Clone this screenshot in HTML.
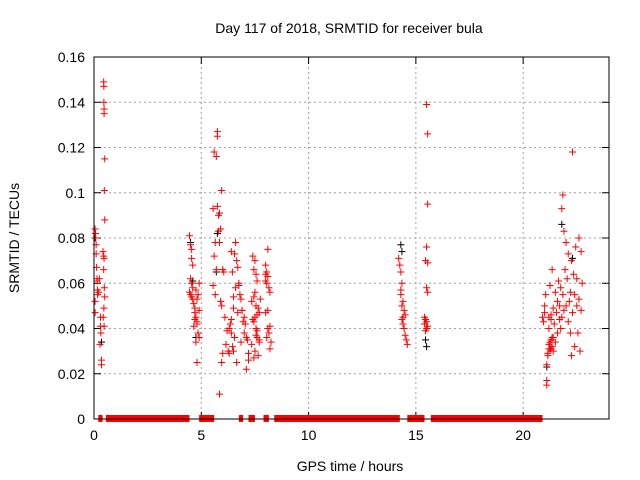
<!DOCTYPE html>
<html><head><meta charset="utf-8">
<style>
html,body{margin:0;padding:0;background:#fff;}
svg{display:block;font-family:"Liberation Sans",sans-serif;}
</style></head>
<body>
<svg id="chart" width="640" height="480" viewBox="0 0 640 480">
<text x="349" y="33" font-size="14" text-anchor="middle" fill="#000">Day 117 of 2018, SRMTID for receiver bula</text>
<text x="350" y="471" font-size="14" text-anchor="middle" fill="#000">GPS time / hours</text>
<text transform="translate(19,238) rotate(-90)" font-size="14" text-anchor="middle" fill="#000">SRMTID / TECUs</text>
<g id="grid"></g>
<g id="ticks"></g>
<g id="zerobars"></g>
<g id="blackpts"></g>
<g id="redpts"></g>
<rect x="94" y="57" width="515" height="362" fill="none" stroke="#000" stroke-width="1"/>
</svg>
<script>
const xTicks=[0,5,10,15,20];
const xTickLabels=["0","5","10","15","20"];
const yTicks=[0,0.02,0.04,0.06,0.08,0.1,0.12,0.14,0.16];
const yTickLabels=["0","0.02","0.04","0.06","0.08","0.1","0.12","0.14","0.16"];
const zeroStart=[0.2,0.55,4.9,6.75,7.2,7.9,8.4,14.6,15.7];
const zeroEnd=[0.4,4.45,5.6,6.95,7.5,8.15,14.25,15.4,20.9];
const redHours=[0.05,0.07,0.08,0.1,0.1,0.12,0.14,0.15,0.16,0.17,0.05,0.05,0.3,0.3,0.32,0.28,0.35,0.35,0.45,0.46,0.46,0.47,0.47,0.5,0.48,0.5,0.42,0.45,0.47,0.45,0.48,0.5,0.46,0.43,0.47,0.22,0.25,
4.45,4.5,4.55,4.55,4.6,4.5,4.55,4.6,4.45,4.5,4.55,4.6,4.65,4.7,4.7,4.75,4.8,4.8,4.85,4.9,4.75,4.8,4.75,4.85,4.9,4.9,4.8,4.7,4.65,
5.6,5.75,5.75,5.7,5.55,5.65,5.75,5.85,5.8,5.9,5.6,5.7,5.55,5.65,5.95,5.8,5.85,6.0,6.05,5.9,5.95,6.1,6.2,6.25,6.15,6.0,5.95,5.85,
6.4,6.45,6.5,6.35,6.6,6.55,6.3,6.4,6.5,6.65,6.7,6.75,6.6,6.8,6.85,6.9,6.7,6.4,6.45,6.3,6.55,6.9,7.0,7.05,6.95,7.1,7.15,7.0,7.2,6.85,6.65,6.75,7.1,7.2,6.5,
7.4,7.5,7.45,7.55,7.6,7.5,7.45,7.35,7.55,7.65,7.7,7.6,7.5,7.4,7.45,7.55,7.6,7.7,7.35,7.5,7.65,7.45,7.55,7.6,7.75,7.7,
8.0,8.05,8.1,8.0,8.05,8.15,8.2,8.1,8.0,8.2,8.1,8.15,8.05,8.25,8.2,8.0,8.1,
14.2,14.25,14.3,14.35,14.3,14.4,14.35,14.45,14.5,14.35,14.4,14.45,14.5,14.55,14.6,14.3,14.4,
15.5,15.55,15.55,15.5,15.45,15.55,15.5,15.55,15.45,15.5,15.4,15.55,15.5,15.45,15.4,
20.9,20.95,21.0,21.0,21.05,21.1,21.1,21.15,21.2,21.2,
21.25,21.25,21.3,21.3,21.35,21.35,21.4,21.4,21.45,21.5,
21.5,21.55,21.6,21.6,21.65,21.7,21.7,21.75,21.75,21.8,
21.8,21.85,21.85,21.9,21.9,21.95,22.0,22.0,22.05,22.1,
22.1,22.15,22.2,22.2,22.25,22.3,22.3,22.35,22.4,22.4,
22.45,22.5,22.5,22.55,22.6,22.6,22.65,22.7,22.7,22.75,
21.1,21.15,21.2,21.25,21.3,21.35,21.4,21.2,21.3,22.25];
const redVals=[0.084,0.082,0.080,0.077,0.073,0.067,0.062,0.061,0.057,0.055,0.052,0.047,0.045,0.041,0.038,0.033,0.026,0.024,0.149,0.147,0.140,0.137,0.135,0.115,0.101,0.088,0.074,0.072,0.071,0.066,0.058,0.054,0.049,0.045,0.041,0.056,0.062,
0.081,0.077,0.075,0.071,0.068,0.062,0.060,0.058,0.056,0.055,0.054,0.053,0.051,0.049,0.047,0.045,0.043,0.042,0.038,0.036,0.034,0.025,0.057,0.055,0.060,0.048,0.053,0.044,0.041,
0.118,0.127,0.125,0.116,0.093,0.078,0.094,0.091,0.090,0.084,0.072,0.066,0.059,0.055,0.101,0.083,0.078,0.066,0.065,0.052,0.050,0.045,0.039,0.030,0.033,0.029,0.025,0.011,
0.074,0.065,0.049,0.042,0.078,0.073,0.040,0.038,0.030,0.070,0.067,0.059,0.058,0.055,0.053,0.048,0.047,0.044,0.032,0.029,0.036,0.048,0.045,0.042,0.043,0.036,0.035,0.038,0.026,0.034,0.025,0.060,0.022,0.029,0.054,
0.072,0.070,0.066,0.064,0.061,0.056,0.054,0.052,0.050,0.049,0.047,0.046,0.045,0.044,0.043,0.037,0.036,0.034,0.033,0.030,0.028,0.027,0.040,0.039,0.053,0.035,
0.068,0.065,0.063,0.061,0.060,0.058,0.056,0.048,0.047,0.041,0.040,0.038,0.036,0.034,0.031,0.064,0.075,
0.071,0.068,0.065,0.060,0.055,0.052,0.050,0.048,0.046,0.044,0.042,0.040,0.037,0.035,0.033,0.057,0.045,
0.139,0.126,0.095,0.076,0.070,0.069,0.058,0.056,0.044,0.043,0.042,0.041,0.040,0.039,0.045,
0.045,0.043,0.047,0.050,0.055,0.017,0.024,0.028,0.033,0.045,
0.031,0.059,0.035,0.046,0.032,0.066,0.049,0.036,0.042,0.056,
0.034,0.047,0.052,0.038,0.061,0.044,0.050,0.058,0.040,0.093,
0.045,0.099,0.055,0.083,0.048,0.066,0.078,0.050,0.062,0.043,
0.073,0.052,0.056,0.038,0.070,0.118,0.047,0.064,0.055,0.032,
0.076,0.050,0.062,0.038,0.080,0.053,0.030,0.074,0.048,0.060,
0.015,0.029,0.031,0.034,0.031,0.036,0.030,0.040,0.044,0.028];
const blackHours=[0.05,0.35,4.5,4.6,4.75,5.7,5.75,14.3,14.35,15.5,15.45,21.1,21.8,22.3];
const blackVals=[0.080,0.034,0.078,0.061,0.036,0.065,0.082,0.077,0.074,0.032,0.035,0.023,0.086,0.071];

const X0=94,X1=609,Y0=419,Y1=57,XMAX=24,YMAX=0.16;
const sx=h=>X0+h*(X1-X0)/XMAX;
const sy=v=>Y0-v*(Y0-Y1)/YMAX;
const NS="http://www.w3.org/2000/svg";
function mk(tag,attrs,parent){const e=document.createElementNS(NS,tag);for(const k in attrs)e.setAttribute(k,attrs[k]);parent.appendChild(e);return e;}
const grid=document.getElementById('grid'),ticks=document.getElementById('ticks');
yTicks.forEach((v,i)=>{
  const y=sy(v);
  if(v>0&&v<YMAX){const g=mk('line',{x1:X0,x2:X1,y1:y,y2:y,stroke:'#a0a0a0','stroke-dasharray':'2,3'},grid);
  
  }
  const t=mk('path',{d:`M${X0} ${y}h7M${X1} ${y}h-7`,stroke:'#000'},ticks);
  
  
  const l=mk('text',{x:X0-9,y:y+5,'font-size':14,'text-anchor':'end'},ticks);l.textContent=yTickLabels[i];
  
  
});
xTicks.forEach((h,i)=>{
  const x=sx(h);
  if(h>0){const g=mk('line',{x1:x,x2:x,y1:Y0,y2:Y1,stroke:'#a0a0a0','stroke-dasharray':'2,3'},grid);
  
  }
  const t=mk('path',{d:`M${x} ${Y0}v-7M${x} ${Y1}v7`,stroke:'#000'},ticks);
  
  
  const l=mk('text',{x:x,y:Y0+21,'font-size':14,'text-anchor':'middle'},ticks);l.textContent=xTickLabels[i];
  
  
});
const zb=document.getElementById('zerobars');
zeroStart.forEach((s,i)=>{
  const r=mk('rect',{x:sx(s),y:Y0-4,width:sx(zeroEnd[i])-sx(s),height:7,fill:'#ff0000'},zb);
  
  
});
function cross(h,v,col,parent,name){
  const x=sx(h),y=sy(v);
  const p=mk('path',{d:`M${x-3.5} ${y}h7M${x} ${y-3.5}v7`,stroke:col,'stroke-width':1},parent);
  
  
}
const bp=document.getElementById('blackpts');
blackHours.forEach((h,i)=>cross(h,blackVals[i],'#000',bp,'black-point'));
const rp=document.getElementById('redpts');
redHours.forEach((h,i)=>cross(h,redVals[i],'#ff0000',rp,'red-point'));
</script>
</body></html>
